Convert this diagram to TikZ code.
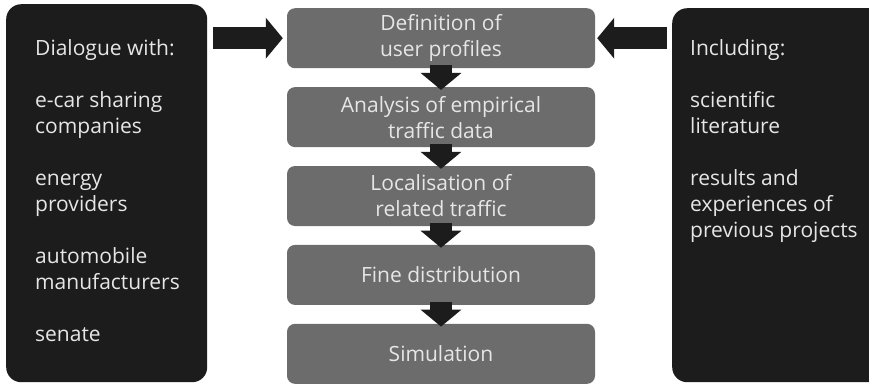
\documentclass[tikz,border=0pt]{standalone}
\usepackage{fontspec}
\setmainfont[Ligatures=NoCommon]{Open Sans}
\usepackage{tikz}
\usetikzlibrary{positioning,arrows.meta}
\definecolor{panel}{HTML}{1C1C1C}
\definecolor{stepgray}{HTML}{6C6C6C}
\definecolor{paper}{HTML}{E6E6E6}
\tikzset{
  sidebox/.style={rectangle, rounded corners=15pt, fill=panel, draw=none, inner sep=0pt},
  sidetext/.style={anchor=north west, inner sep=0pt, align=left, text=paper,
                   font=\fontsize{21}{26}\selectfont},
  stepbox/.style={rectangle, rounded corners=8pt, fill=stepgray, draw=none,
                  minimum width=308pt, minimum height=60pt, align=center, text=paper,
                  font=\fontsize{21}{26}\selectfont},
  fat/.style={line width=22pt, draw=panel, -{Triangle[width=40pt,length=17pt]}},
}
\begin{document}
\begin{tikzpicture}[x=1pt,y=-1pt,node distance=18.5pt]
\useasboundingbox[fill=white] (0,0) rectangle (869,384);
\clip (0,0) rectangle (869,384);
% side panels
\node[sidebox, anchor=north west, minimum width=201pt, minimum height=378pt] (dialogue) at (6,4) {};
\node[sidebox, anchor=north west, minimum width=220pt, minimum height=374pt] (sources) at (672,8) {};
\node[sidetext] (dialoguetxt) at (35,39) {Dialogue with:\\[26pt]
  e-car sharing\\ companies\\[26pt]
  energy\\ providers\\[26pt]
  automobile\\ manufacturers\\[26pt]
  senate};
\node[sidetext] (sourcestxt) at (690,39) {Including:\\[26pt]
  scientific\\ literature\\[26pt]
  results and\\ experiences of\\ previous projects};
% process steps
\node[stepbox, anchor=north] (b1) at (441,8) {Definition of\\ user profiles};
\node[stepbox, below=of b1] (b2) {Analysis of empirical\\ traffic data};
\node[stepbox, below=of b2] (b3) {Localisation of\\ related traffic};
\node[stepbox, below=of b3] (b4) {Fine distribution};
\node[stepbox, below=of b4] (b5) {Simulation};
% arrows
\draw[fat] ([xshift=6pt]dialogue.east |- b1) -- ([xshift=-4pt]b1.west);
\draw[fat] ([xshift=-5pt]sources.west |- b1) -- ([xshift=2pt]b1.east);
\draw[fat] ([yshift=3pt]b1.south) -- ([yshift=-3pt]b2.north);
\draw[fat] ([yshift=3pt]b2.south) -- ([yshift=-3pt]b3.north);
\draw[fat] ([yshift=3pt]b3.south) -- ([yshift=-3pt]b4.north);
\draw[fat] ([yshift=3pt]b4.south) -- ([yshift=-3pt]b5.north);
\end{tikzpicture}
\end{document}
